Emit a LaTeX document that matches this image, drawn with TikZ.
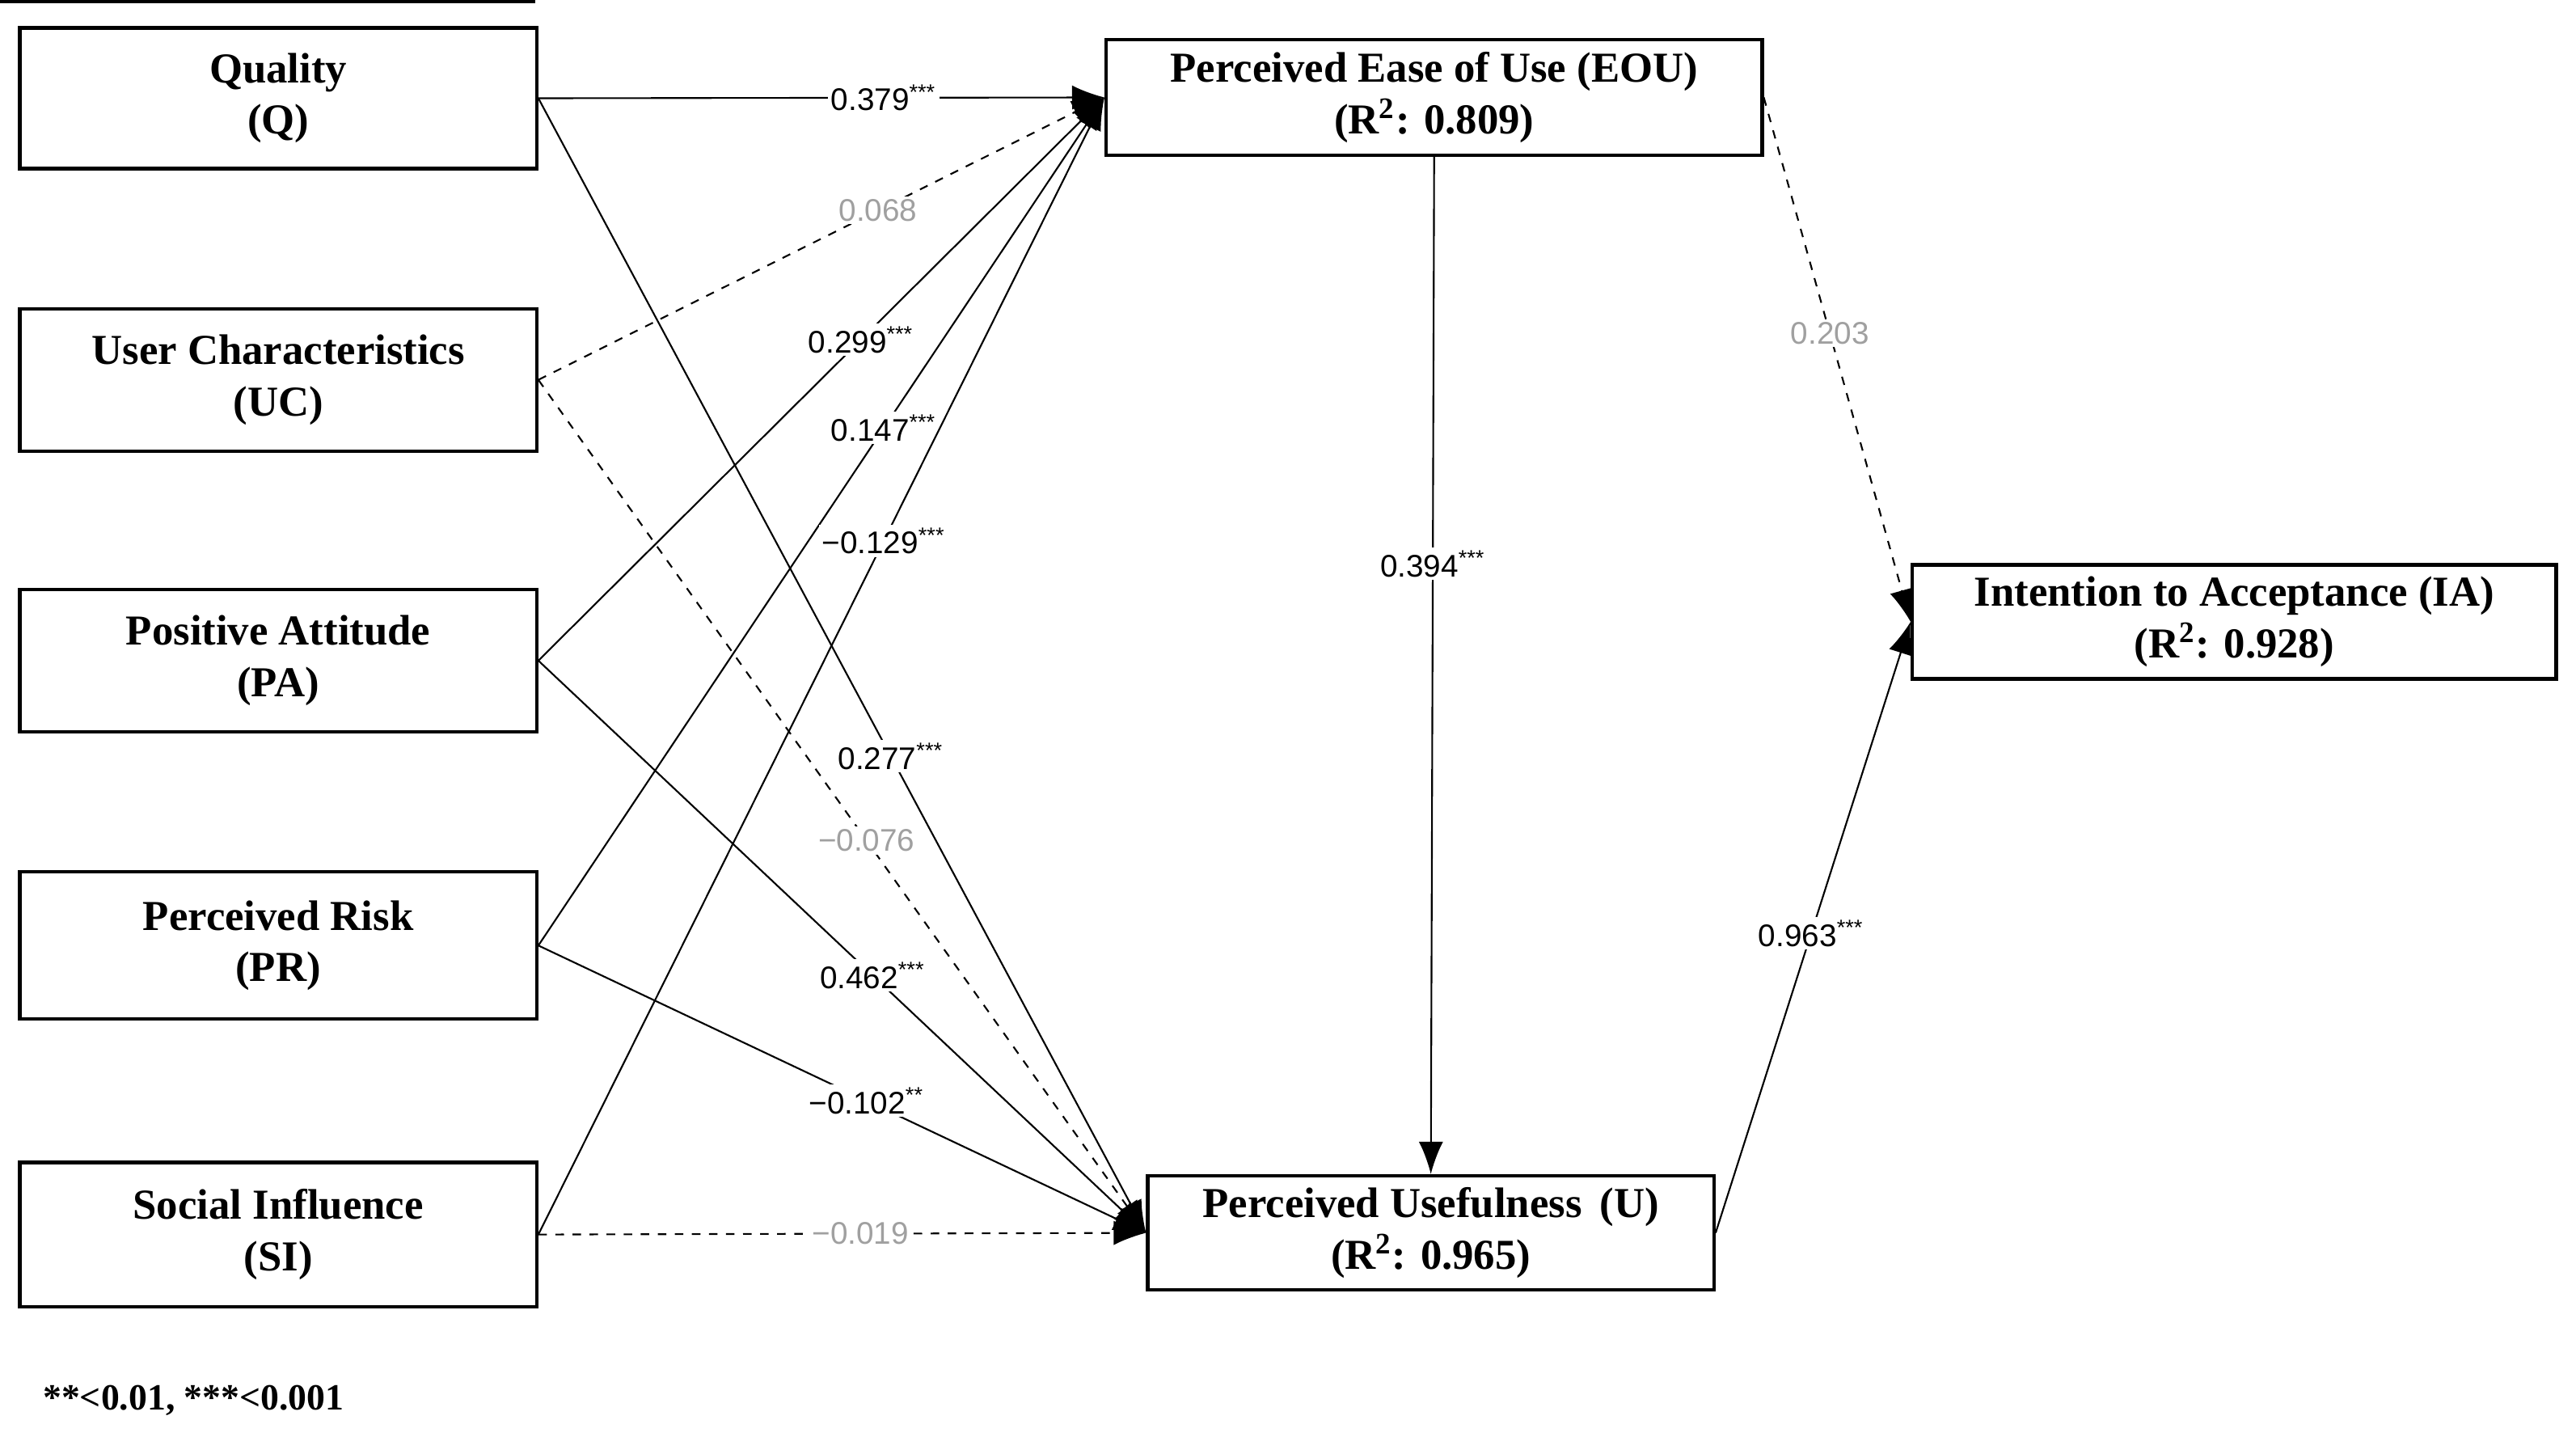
\documentclass[tikz,border=0pt]{standalone}
\usepackage{fontspec}
\setmainfont{Liberation Serif}
\setsansfont{Liberation Sans}
\usetikzlibrary{arrows.meta}
\definecolor{lgray}{RGB}{160,160,160}
\begin{document}
\begin{tikzpicture}[x=0.02042cm,y=-0.02042cm,
  box/.style={draw,line width=1.2pt,inner sep=0pt,align=center,font=\fontsize{15}{18}\selectfont\bfseries},
  link/.style={line width=0.6pt,-{Latex[length=4mm,width=3mm]}},
  lab/.style={fill=white,inner sep=1pt,font=\sffamily\fontsize{11}{12}\selectfont},
  glab/.style={lab,text=lgray}]
\useasboundingbox (0,0) rectangle (1560,870);
\node[box,minimum width=313\pgflinewidth] at (0,0) {};
\node[box,minimum width=6.39cm,minimum height=1.74cm] (Q) at (168.5,59.5) {Quality\\(Q)};
\node[box,minimum width=6.39cm,minimum height=1.76cm] (UC) at (168.5,230) {User Characteristics\\(UC)};
\node[box,minimum width=6.39cm,minimum height=1.76cm] (PA) at (168.5,400) {Positive Attitude\\(PA)};
\node[box,minimum width=6.39cm,minimum height=1.82cm] (PR) at (168.5,572.5) {Perceived Risk\\(PR)};
\node[box,minimum width=6.39cm,minimum height=1.78cm] (SI) at (168.5,747.5) {Social Influence\\(SI)};
\node[box,minimum width=8.11cm,minimum height=1.43cm] (EOU) at (868.5,59) {Perceived Ease of Use (EOU)\\(R\textsuperscript{2}: 0.809)};
\node[box,minimum width=7.0cm,minimum height=1.41cm] (U) at (866.5,746.5) {Perceived Usefulness\, (U)\\(R\textsuperscript{2}: 0.965)};
\node[box,minimum width=7.96cm,minimum height=1.41cm] (IA) at (1353,376.5) {Intention to Acceptance (IA)\\(R\textsuperscript{2}: 0.928)};
\node[anchor=west,font=\fontsize{13}{15}\selectfont\bfseries] (fn) at (20,848) {**<0.01, ***<0.001};

\draw[link] (Q.east) -- node[lab,pos=0.61]{0.379\textsuperscript{***}} (EOU.west);
\draw[link,dashed] (UC.east) -- node[glab,pos=0.60]{0.068} (EOU.west);
\draw[link] (PA.east) -- node[lab,pos=0.57]{0.299\textsuperscript{***}} (EOU.west);
\draw[link] (PR.east) -- node[lab,pos=0.61]{0.147\textsuperscript{***}} (EOU.west);
\draw[link] (SI.east) -- node[lab,pos=0.61]{−0.129\textsuperscript{***}} (EOU.west);
\draw[link] (Q.east) -- node[lab,pos=0.58]{0.277\textsuperscript{***}} (U.west);
\draw[link,dashed] (UC.east) -- node[glab,pos=0.54]{−0.076} (U.west);
\draw[link] (PA.east) -- node[lab,pos=0.55]{0.462\textsuperscript{***}} (U.west);
\draw[link] (PR.east) -- node[lab,pos=0.54]{−0.102\textsuperscript{**}} (U.west);
\draw[link,dashed] (SI.east) -- node[glab,pos=0.53]{−0.019} (U.west);
\draw[link] (EOU.south) -- node[lab,pos=0.40]{0.394\textsuperscript{***}} (U.north);
\draw[link,dashed] (EOU.east) -- node[glab,pos=0.45]{0.203} (IA.west);
\draw[link] (U.east) -- node[lab,pos=0.49]{0.963\textsuperscript{***}} (IA.west);
\end{tikzpicture}
\end{document}
